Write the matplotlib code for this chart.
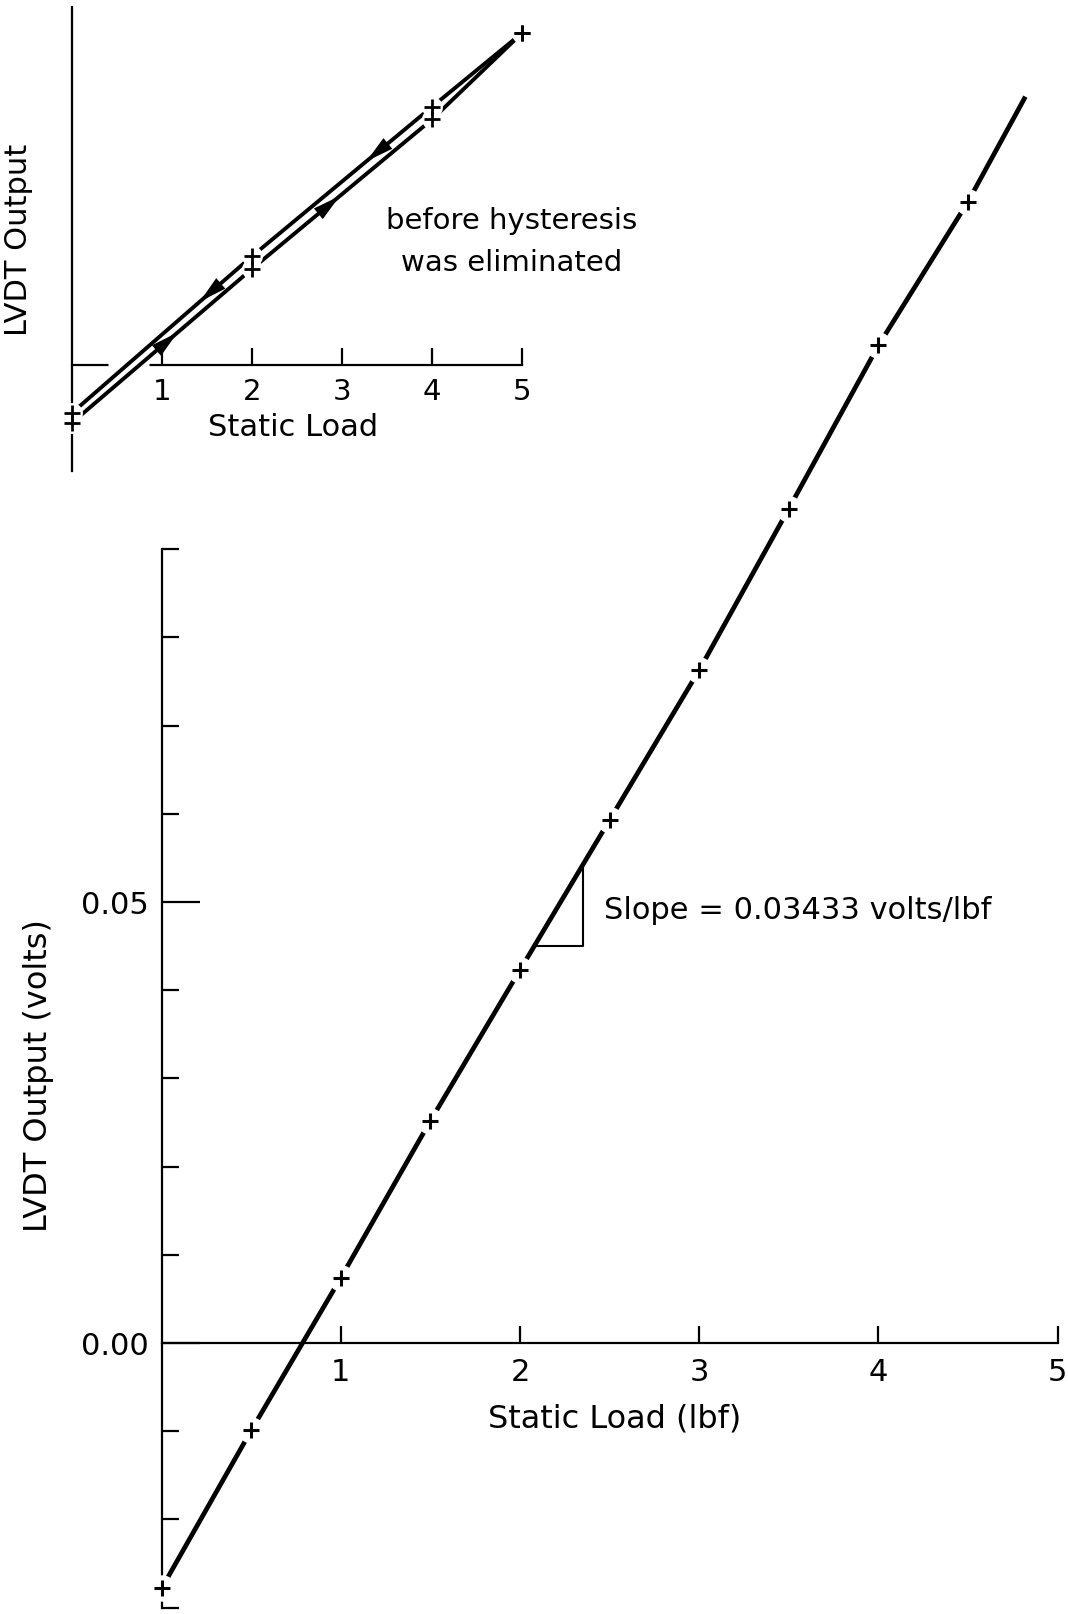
import numpy as np
import matplotlib.pyplot as plt
from matplotlib.ticker import FixedLocator, FixedFormatter

plt.rcParams['font.family'] = 'DejaVu Sans'

# main calibration data
load = [0.0, 0.5, 1.0, 1.5, 2.0, 2.5, 3.0, 3.5, 4.0, 4.5]
volts = [-0.0278, -0.0099, 0.0074, 0.0252, 0.0423, 0.0593, 0.0763, 0.0946, 0.1131, 0.1294]
line_end_x = 4.82
line_end_y = 0.1413
slope_label = "Slope = 0.03433 volts/lbf"
tri_x = [2.08, 2.35]

y_major = [0.00, 0.05]
y_major_labels = ["0.00", "0.05"]
y_minor = [-0.03, -0.02, -0.01, 0.01, 0.02, 0.03, 0.04, 0.06, 0.07, 0.08, 0.09]
x_ticks = [1, 2, 3, 4, 5]

# inset: before hysteresis was eliminated
hyst_load = [0, 2, 4, 5]
hyst_loading = [-0.65, 1.06, 2.72, 3.68]
hyst_unloading = [-0.54, 1.20, 2.86, 3.68]
arrow_up_x = [1.2, 3.0]
arrow_down_x = [1.4, 3.25]
axis_gap = [0.40, 0.86]

fig = plt.figure(figsize=(10.68, 16.15), dpi=100)

# ---------------- main plot
ax = fig.add_axes([0.1346, 0.00124, 0.8557, 0.9432])
ax.set_facecolor('none')
ax.set_xlim(-0.1, 5.0)
ax.set_ylim(-0.0305, 0.1422)

for s in ['top', 'right']:
    ax.spines[s].set_visible(False)
ax.spines['left'].set_position(('data', 0))
ax.spines['bottom'].set_position(('data', 0))
ax.spines['left'].set_bounds(-0.03, 0.09)
ax.spines['bottom'].set_bounds(0, 5)
for s in ['left', 'bottom']:
    ax.spines[s].set_linewidth(1.6)

ax.yaxis.set_major_locator(FixedLocator(y_major))
ax.yaxis.set_major_formatter(FixedFormatter(y_major_labels))
ax.yaxis.set_minor_locator(FixedLocator(y_minor))
ax.xaxis.set_major_locator(FixedLocator(x_ticks))
ax.tick_params(axis='y', which='major', direction='in', length=27, width=1.6,
               pad=9, labelsize=22)
ax.tick_params(axis='y', which='minor', direction='in', length=12.5, width=1.6)
ax.tick_params(axis='x', which='major', direction='in', length=12.5, width=1.6,
               pad=10, labelsize=22)

lx = list(load) + [line_end_x]
ly = list(volts) + [line_end_y]
ax.plot(lx, ly, color='black', lw=3.4, solid_capstyle='butt', zorder=3, clip_on=False)
ax.plot(load, volts, 'o', ms=19, color='white', mec='none', zorder=3.5, clip_on=False)
ax.plot(load, volts, '+', ms=12, mew=2.2, color='black', zorder=4, clip_on=False)

# slope triangle
ty = np.interp(tri_x, lx, ly)
ax.plot([tri_x[0], tri_x[1], tri_x[1]], [ty[0], ty[0], ty[1]], color='black', lw=1.5, zorder=3)
ax.text(tri_x[1] + 0.12, (ty[0] + ty[1]) / 2 - 0.0005, slope_label, fontsize=22,
        ha='left', va='center')

ax.text(2.53, -0.0085, "Static Load (lbf)", fontsize=23, ha='center', va='center')
ax.text(-0.69, 0.0304, "LVDT Output (volts)", fontsize=23, rotation=90,
        ha='center', va='center', clip_on=False)

# ---------------- inset
ins = fig.add_axes([0.0586, 0.7067, 0.4555, 0.2901])
ins.set_facecolor('none')
ins.set_xlim(-0.1, 5.3)
ins.set_ylim(-1.2, 4.0)
for s in ['top', 'right']:
    ins.spines[s].set_visible(False)
ins.spines['left'].set_position(('data', 0))
ins.spines['bottom'].set_position(('data', 0))
ins.spines['left'].set_bounds(-1.18, 3.97)
ins.spines['bottom'].set_bounds(0, 5)
for s in ['left', 'bottom']:
    ins.spines[s].set_linewidth(1.6)
ins.set_yticks([])
ins.xaxis.set_major_locator(FixedLocator(x_ticks))
ins.tick_params(axis='x', direction='in', length=12.5, width=1.6, pad=9, labelsize=21)

ins.plot(axis_gap, [0, 0], color='white', lw=5, zorder=2.6, solid_capstyle='butt')

for ys in (hyst_loading, hyst_unloading):
    ins.plot(hyst_load, ys, color='black', lw=2.8, zorder=3, clip_on=False)
    ins.plot(hyst_load, ys, 'o', ms=15, color='white', mec='none', zorder=3.5, clip_on=False)
    ins.plot(hyst_load, ys, '+', ms=11, mew=2, color='black', zorder=4, clip_on=False)

for xs, ys, sign in ((arrow_up_x, hyst_loading, 1), (arrow_down_x, hyst_unloading, -1)):
    for xa in xs:
        x0 = xa - sign * 0.15
        ins.annotate('', xy=(xa, np.interp(xa, hyst_load, ys)),
                     xytext=(x0, np.interp(x0, hyst_load, ys)),
                     arrowprops=dict(arrowstyle='-|>,head_length=1.0,head_width=0.25',
                                     color='black', lw=0, mutation_scale=20),
                     zorder=5)

ins.text(2.46, -0.69, "Static Load", fontsize=22, ha='center', va='center')
ins.text(-0.59, 1.39, "LVDT Output", fontsize=22, rotation=90, ha='center', va='center')
ins.text(4.89, 1.60, "before hysteresis", fontsize=21, ha='center', va='center', clip_on=False)
ins.text(4.89, 1.14, "was eliminated", fontsize=21, ha='center', va='center', clip_on=False)

fig.savefig('out.png', dpi=100, facecolor='white')
